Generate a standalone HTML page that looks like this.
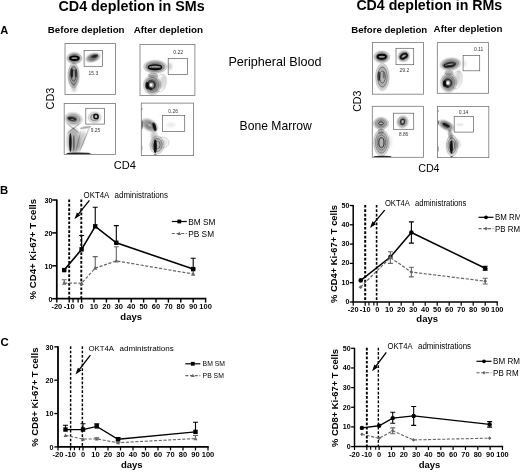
<!DOCTYPE html>
<html lang="en"><head><meta charset="utf-8"><title>CD4 depletion in SMs and RMs</title>
<style>
html,body{margin:0;padding:0;background:#fff;}
body{width:520px;height:472px;overflow:hidden;font-family:"Liberation Sans", Arial, sans-serif;}
svg{display:block;font-family:"Liberation Sans", Arial, sans-serif;}
</style></head>
<body>
<svg width="520" height="472" viewBox="0 0 520 472">
<defs>
<filter id="b0" x="-50%" y="-50%" width="200%" height="200%"><feGaussianBlur stdDeviation="0.35"/></filter>
<filter id="b1" x="-50%" y="-50%" width="200%" height="200%"><feGaussianBlur stdDeviation="0.6"/></filter>
<filter id="b2" x="-50%" y="-50%" width="200%" height="200%"><feGaussianBlur stdDeviation="1.1"/></filter>
<filter id="b3" x="-50%" y="-50%" width="200%" height="200%"><feGaussianBlur stdDeviation="1.8"/></filter>
<filter id="b4" x="-80%" y="-80%" width="260%" height="260%"><feGaussianBlur stdDeviation="2.8"/></filter>
</defs>
<rect width="520" height="472" fill="#fff"/>
<text x="131.6" y="11.4" font-size="14.3" font-weight="bold" text-anchor="middle" fill="#000" >CD4 depletion in SMs</text>
<text x="429.3" y="10.2" font-size="14.2" font-weight="bold" text-anchor="middle" fill="#000" >CD4 depletion in RMs</text>
<text x="0.3" y="34.1" font-size="11.1" font-weight="bold" text-anchor="start" fill="#000" >A</text>
<text x="0" y="193.5" font-size="11.3" font-weight="bold" text-anchor="start" fill="#000" >B</text>
<text x="0.5" y="346" font-size="11.4" font-weight="bold" text-anchor="start" fill="#000" >C</text>
<text x="86.2" y="33.4" font-size="9.72" font-weight="bold" text-anchor="middle" fill="#000" >Before depletion</text>
<text x="168.4" y="33.3" font-size="9.85" font-weight="bold" text-anchor="middle" fill="#000" >After depletion</text>
<text x="389.3" y="32.6" font-size="9.65" font-weight="bold" text-anchor="middle" fill="#000" >Before depletion</text>
<text x="468" y="31.7" font-size="9.75" font-weight="bold" text-anchor="middle" fill="#000" >After depletion</text>
<text x="275" y="66.0" font-size="12.6" font-weight="normal" text-anchor="middle" fill="#000" >Peripheral Blood</text>
<text x="275.7" y="129.6" font-size="12.15" font-weight="normal" text-anchor="middle" fill="#000" >Bone Marrow</text>
<text transform="translate(54.2 98.5) rotate(-90)" font-size="10.9" text-anchor="middle">CD3</text>
<text x="113.8" y="168.9" font-size="11.1" font-weight="normal" text-anchor="start" fill="#000" >CD4</text>
<text transform="translate(360.6 101.2) rotate(-90)" font-size="10.6" text-anchor="middle">CD3</text>
<text x="418.2" y="172" font-size="10.7" font-weight="normal" text-anchor="start" fill="#000" >CD4</text>
<clipPath id="c65_43"><rect x="65" y="43.5" width="50.5" height="51.0"/></clipPath>
<g clip-path="url(#c65_43)">
<g transform="rotate(0 74.4 58.2)">
<ellipse cx="74.4" cy="58.2" rx="6.81" ry="4.97" fill="#000" opacity="0.42" filter="url(#b2)"/>
<ellipse cx="74.4" cy="58.2" rx="7.40" ry="5.40" fill="none" stroke="#000" stroke-width="0.55" opacity="0.30" filter="url(#b0)"/>
<ellipse cx="74.4" cy="58.2" rx="5.34" ry="3.90" fill="none" stroke="#000" stroke-width="0.55" opacity="0.55" filter="url(#b0)"/>
<ellipse cx="74.4" cy="58.2" rx="3.29" ry="2.40" fill="none" stroke="#000" stroke-width="0.55" opacity="0.80" filter="url(#b0)"/>
<ellipse cx="74.4" cy="58.2" rx="4.2" ry="1.8" fill="none" stroke="#000" stroke-width="1.9" opacity="0.95" filter="url(#b1)"/>
</g>
<g transform="rotate(-18 93.0 57.6)">
<ellipse cx="93.0" cy="57.6" rx="6.81" ry="3.50" fill="#000" opacity="0.4" filter="url(#b2)"/>
<ellipse cx="93.0" cy="57.6" rx="7.40" ry="3.80" fill="none" stroke="#000" stroke-width="0.55" opacity="0.30" filter="url(#b0)"/>
<ellipse cx="93.0" cy="57.6" rx="5.34" ry="2.74" fill="none" stroke="#000" stroke-width="0.55" opacity="0.55" filter="url(#b0)"/>
<ellipse cx="93.0" cy="57.6" rx="3.29" ry="1.69" fill="none" stroke="#000" stroke-width="0.55" opacity="0.80" filter="url(#b0)"/>
</g>
<ellipse cx="94.6" cy="56.2" rx="3.4" ry="1.5" transform="rotate(-18 94.6 56.2)" fill="#000" opacity="0.75" filter="url(#b1)"/>
<g transform="rotate(0 73.6 75.6)">
<ellipse cx="73.6" cy="75.6" rx="4.97" ry="11.41" fill="#000" opacity="0.4" filter="url(#b2)"/>
<ellipse cx="73.6" cy="75.6" rx="5.40" ry="12.40" fill="none" stroke="#000" stroke-width="0.55" opacity="0.30" filter="url(#b0)"/>
<ellipse cx="73.6" cy="75.6" rx="3.90" ry="8.96" fill="none" stroke="#000" stroke-width="0.55" opacity="0.55" filter="url(#b0)"/>
<ellipse cx="73.6" cy="75.6" rx="2.40" ry="5.51" fill="none" stroke="#000" stroke-width="0.55" opacity="0.80" filter="url(#b0)"/>
</g>
<ellipse cx="71.8" cy="73" rx="1.4" ry="4.8" transform="rotate(0 71.8 73)" fill="#000" opacity="0.75" filter="url(#b1)"/>
<ellipse cx="75.9" cy="73.2" rx="1.1" ry="4.4" transform="rotate(0 75.9 73.2)" fill="#000" opacity="0.55" filter="url(#b1)"/>
<ellipse cx="74" cy="88" rx="2.4" ry="4" transform="rotate(0 74 88)" fill="#000" opacity="0.2" filter="url(#b2)"/>
</g>
<rect x="65" y="43.5" width="50.5" height="51.0" fill="none" stroke="#777" stroke-width="0.8"/>
<rect x="84.1" y="50.4" width="18.5" height="15.9" fill="none" stroke="#5e5e5e" stroke-width="0.7"/>
<text x="93.4" y="74.9" font-size="5.0" font-weight="normal" text-anchor="middle" fill="#222" opacity="0.9">15.3</text>
<clipPath id="c140_44"><rect x="140" y="44.4" width="54.9" height="51"/></clipPath>
<g clip-path="url(#c140_44)">
<g transform="rotate(0 155.2 66.8)">
<ellipse cx="155.2" cy="66.8" rx="10.67" ry="5.70" fill="#000" opacity="0.38" filter="url(#b2)"/>
<ellipse cx="155.2" cy="66.8" rx="11.60" ry="6.20" fill="none" stroke="#000" stroke-width="0.55" opacity="0.24" filter="url(#b0)"/>
<ellipse cx="155.2" cy="66.8" rx="9.08" ry="4.85" fill="none" stroke="#000" stroke-width="0.55" opacity="0.37" filter="url(#b0)"/>
<ellipse cx="155.2" cy="66.8" rx="6.56" ry="3.50" fill="none" stroke="#000" stroke-width="0.55" opacity="0.51" filter="url(#b0)"/>
<ellipse cx="155.2" cy="66.8" rx="4.03" ry="2.16" fill="none" stroke="#000" stroke-width="0.55" opacity="0.64" filter="url(#b0)"/>
</g>
<ellipse cx="155.0" cy="67.2" rx="6.6" ry="2.2" transform="rotate(0 155.0 67.2)" fill="none" stroke="#000" stroke-width="1.6" opacity="0.9" filter="url(#b1)"/>
<ellipse cx="155.0" cy="68.5" rx="6.0" ry="1.0" transform="rotate(0 155.0 68.5)" fill="#000" opacity="0.6" filter="url(#b1)"/>
<g transform="rotate(0 152.2 85)">
<ellipse cx="152.2" cy="85" rx="7.91" ry="8.83" fill="#000" opacity="0.38" filter="url(#b2)"/>
<ellipse cx="152.2" cy="85" rx="8.60" ry="9.60" fill="none" stroke="#000" stroke-width="0.55" opacity="0.24" filter="url(#b0)"/>
<ellipse cx="152.2" cy="85" rx="6.73" ry="7.51" fill="none" stroke="#000" stroke-width="0.55" opacity="0.37" filter="url(#b0)"/>
<ellipse cx="152.2" cy="85" rx="4.86" ry="5.43" fill="none" stroke="#000" stroke-width="0.55" opacity="0.51" filter="url(#b0)"/>
<ellipse cx="152.2" cy="85" rx="2.99" ry="3.34" fill="none" stroke="#000" stroke-width="0.55" opacity="0.64" filter="url(#b0)"/>
</g>
<ellipse cx="151.2" cy="85" rx="3.7" ry="3.9" transform="rotate(0 151.2 85)" fill="none" stroke="#000" stroke-width="2.1" opacity="0.55" filter="url(#b1)"/>
<ellipse cx="147.2" cy="85.4" rx="1.7" ry="3.4" transform="rotate(0 147.2 85.4)" fill="#000" opacity="0.85" filter="url(#b1)"/>
<ellipse cx="149.5" cy="88.4" rx="2.8" ry="1.3" transform="rotate(20 149.5 88.4)" fill="#000" opacity="0.6" filter="url(#b1)"/>
<ellipse cx="151.0" cy="85" rx="1.4" ry="1.4" transform="rotate(0 151.0 85)" fill="#fff" opacity="0.95" filter="url(#b1)"/>
<ellipse cx="160.5" cy="83" rx="5.5" ry="9" transform="rotate(12 160.5 83)" fill="none" stroke="#000" stroke-width="0.5" opacity="0.35" filter="url(#b0)"/>
<ellipse cx="162.5" cy="82" rx="3" ry="7" transform="rotate(12 162.5 82)" fill="#000" opacity="0.16" filter="url(#b2)"/>
<ellipse cx="153.0" cy="75.3" rx="5" ry="2.5" transform="rotate(0 153.0 75.3)" fill="#000" opacity="0.25" filter="url(#b1)"/>
<ellipse cx="170" cy="66.5" rx="2" ry="3.4" transform="rotate(0 170 66.5)" fill="#000" opacity="0.2" filter="url(#b2)"/>
</g>
<rect x="140" y="44.4" width="54.9" height="51" fill="none" stroke="#777" stroke-width="0.8"/>
<rect x="168.2" y="58.4" width="19.4" height="16" fill="none" stroke="#5e5e5e" stroke-width="0.7"/>
<text x="178.2" y="54.0" font-size="5.2" font-weight="normal" text-anchor="middle" fill="#222" opacity="0.9">0.22</text>
<clipPath id="c64_103"><rect x="64.2" y="103.5" width="51.2" height="50.9"/></clipPath>
<g clip-path="url(#c64_103)">
<g transform="rotate(8 73.4 119.0)">
<ellipse cx="73.4" cy="119.0" rx="8.28" ry="5.70" fill="#000" opacity="0.27" filter="url(#b2)"/>
<ellipse cx="73.4" cy="119.0" rx="9.00" ry="6.20" fill="none" stroke="#000" stroke-width="0.55" opacity="0.22" filter="url(#b0)"/>
<ellipse cx="73.4" cy="119.0" rx="6.50" ry="4.48" fill="none" stroke="#000" stroke-width="0.55" opacity="0.41" filter="url(#b0)"/>
<ellipse cx="73.4" cy="119.0" rx="4.00" ry="2.76" fill="none" stroke="#000" stroke-width="0.55" opacity="0.60" filter="url(#b0)"/>
</g>
<ellipse cx="72.0" cy="118.8" rx="4.6" ry="2.0" transform="rotate(10 72.0 118.8)" fill="#000" opacity="0.82" filter="url(#b1)"/>
<ellipse cx="72.4" cy="119.2" rx="1.8" ry="0.5" transform="rotate(10 72.4 119.2)" fill="#fff" opacity="0.5" filter="url(#b0)"/>
<g transform="rotate(0 94.6 117.4)">
<ellipse cx="94.6" cy="117.4" rx="5.89" ry="4.97" fill="#000" opacity="0.22" filter="url(#b2)"/>
<ellipse cx="94.6" cy="117.4" rx="6.40" ry="5.40" fill="none" stroke="#000" stroke-width="0.55" opacity="0.22" filter="url(#b0)"/>
<ellipse cx="94.6" cy="117.4" rx="3.94" ry="3.32" fill="none" stroke="#000" stroke-width="0.55" opacity="0.60" filter="url(#b0)"/>
</g>
<ellipse cx="96.0" cy="116.6" rx="2.1" ry="2.2" transform="rotate(0 96.0 116.6)" fill="none" stroke="#000" stroke-width="1.6" opacity="0.88" filter="url(#b1)"/>
<ellipse cx="73.5" cy="141" rx="6.5" ry="13" transform="rotate(0 73.5 141)" fill="#000" opacity="0.3" filter="url(#b3)"/>
<ellipse cx="70.4" cy="142.5" rx="1.3" ry="9.5" transform="rotate(0 70.4 142.5)" fill="#000" opacity="0.88" filter="url(#b1)"/>
<ellipse cx="73.8" cy="143" rx="1.0" ry="8" transform="rotate(0 73.8 143)" fill="#000" opacity="0.42" filter="url(#b1)"/>
<ellipse cx="81.0" cy="141" rx="3.0" ry="10.5" transform="rotate(18 81.0 141)" fill="#000" opacity="0.2" filter="url(#b2)"/>
<ellipse cx="84.6" cy="139.5" rx="0.35" ry="13.5" transform="rotate(22 84.6 139.5)" fill="#000" opacity="0.5" filter="url(#b0)"/>
<ellipse cx="78.4" cy="140.5" rx="0.35" ry="11.5" transform="rotate(14 78.4 140.5)" fill="#000" opacity="0.32" filter="url(#b0)"/>
<ellipse cx="73.4" cy="128.4" rx="8.5" ry="0.35" transform="rotate(38 73.4 128.4)" fill="#000" opacity="0.48" filter="url(#b0)"/>
<ellipse cx="73.4" cy="128.4" rx="8.5" ry="0.35" transform="rotate(-38 73.4 128.4)" fill="#000" opacity="0.48" filter="url(#b0)"/>
<ellipse cx="85.5" cy="127.4" rx="5.5" ry="1.0" transform="rotate(-10 85.5 127.4)" fill="#000" opacity="0.38" filter="url(#b1)"/>
<ellipse cx="78.5" cy="153.5" rx="12.5" ry="0.9" transform="rotate(0 78.5 153.5)" fill="#000" opacity="0.85" filter="url(#b1)"/>
</g>
<rect x="64.2" y="103.5" width="51.2" height="50.9" fill="none" stroke="#777" stroke-width="0.8"/>
<rect x="85.8" y="108.3" width="18.7" height="15.8" fill="none" stroke="#5e5e5e" stroke-width="0.7"/>
<text x="95.5" y="131.6" font-size="4.8" font-weight="normal" text-anchor="middle" fill="#222" opacity="0.9">9.25</text>
<clipPath id="c141_103"><rect x="141.3" y="103.1" width="52.3" height="52.5"/></clipPath>
<g clip-path="url(#c141_103)">
<g transform="rotate(30 149.6 125.2)">
<ellipse cx="149.6" cy="125.2" rx="8.28" ry="4.78" fill="#000" opacity="0.3" filter="url(#b2)"/>
<ellipse cx="149.6" cy="125.2" rx="9.00" ry="5.20" fill="none" stroke="#000" stroke-width="0.55" opacity="0.27" filter="url(#b0)"/>
<ellipse cx="149.6" cy="125.2" rx="7.04" ry="4.07" fill="none" stroke="#000" stroke-width="0.55" opacity="0.42" filter="url(#b0)"/>
<ellipse cx="149.6" cy="125.2" rx="5.09" ry="2.94" fill="none" stroke="#000" stroke-width="0.55" opacity="0.57" filter="url(#b0)"/>
<ellipse cx="149.6" cy="125.2" rx="3.13" ry="1.81" fill="none" stroke="#000" stroke-width="0.55" opacity="0.72" filter="url(#b0)"/>
</g>
<ellipse cx="154.4" cy="126.8" rx="1.7" ry="4.4" transform="rotate(-15 154.4 126.8)" fill="#000" opacity="0.88" filter="url(#b1)"/>
<g transform="rotate(0 157.0 145.0)">
<ellipse cx="157.0" cy="145.0" rx="6.44" ry="8.28" fill="#000" opacity="0.26" filter="url(#b2)"/>
<ellipse cx="157.0" cy="145.0" rx="7.00" ry="9.00" fill="none" stroke="#000" stroke-width="0.55" opacity="0.27" filter="url(#b0)"/>
<ellipse cx="157.0" cy="145.0" rx="5.06" ry="6.50" fill="none" stroke="#000" stroke-width="0.55" opacity="0.50" filter="url(#b0)"/>
<ellipse cx="157.0" cy="145.0" rx="3.11" ry="4.00" fill="none" stroke="#000" stroke-width="0.55" opacity="0.72" filter="url(#b0)"/>
</g>
<ellipse cx="155.2" cy="146.4" rx="1.7" ry="6.8" transform="rotate(0 155.2 146.4)" fill="#000" opacity="0.9" filter="url(#b1)"/>
<ellipse cx="162.5" cy="142.5" rx="6.5" ry="5.5" transform="rotate(0 162.5 142.5)" fill="none" stroke="#000" stroke-width="0.5" opacity="0.32" filter="url(#b0)"/>
<ellipse cx="163.5" cy="142.5" rx="4.5" ry="4" transform="rotate(0 163.5 142.5)" fill="#000" opacity="0.1" filter="url(#b2)"/>
<ellipse cx="154.0" cy="135.5" rx="3.2" ry="4.5" transform="rotate(0 154.0 135.5)" fill="#000" opacity="0.2" filter="url(#b2)"/>
<ellipse cx="141.9" cy="124.8" rx="0.7" ry="4.8" transform="rotate(0 141.9 124.8)" fill="#000" opacity="0.8" filter="url(#b0)"/>
<ellipse cx="141.9" cy="109" rx="0.5" ry="1.2" transform="rotate(0 141.9 109)" fill="#000" opacity="0.5" filter="url(#b0)"/>
<ellipse cx="141.9" cy="148" rx="0.5" ry="2.5" transform="rotate(0 141.9 148)" fill="#000" opacity="0.5" filter="url(#b0)"/>
<ellipse cx="171" cy="125" rx="4.5" ry="2.5" transform="rotate(0 171 125)" fill="#000" opacity="0.08" filter="url(#b2)"/>
<ellipse cx="155.2" cy="155" rx="1.6" ry="0.8" transform="rotate(0 155.2 155)" fill="#000" opacity="0.65" filter="url(#b0)"/>
</g>
<rect x="141.3" y="103.1" width="52.3" height="52.5" fill="none" stroke="#777" stroke-width="0.8"/>
<rect x="162.4" y="115.5" width="22.3" height="15.9" fill="none" stroke="#5e5e5e" stroke-width="0.7"/>
<text x="173.2" y="113.0" font-size="5.0" font-weight="normal" text-anchor="middle" fill="#222" opacity="0.9">0.26</text>
<clipPath id="c372_42"><rect x="372.4" y="42.5" width="51.1" height="51.7"/></clipPath>
<g clip-path="url(#c372_42)">
<g transform="rotate(0 381.8 56.8)">
<ellipse cx="381.8" cy="56.8" rx="7.18" ry="5.15" fill="#000" opacity="0.4" filter="url(#b2)"/>
<ellipse cx="381.8" cy="56.8" rx="7.80" ry="5.60" fill="none" stroke="#000" stroke-width="0.55" opacity="0.30" filter="url(#b0)"/>
<ellipse cx="381.8" cy="56.8" rx="5.63" ry="4.04" fill="none" stroke="#000" stroke-width="0.55" opacity="0.55" filter="url(#b0)"/>
<ellipse cx="381.8" cy="56.8" rx="3.47" ry="2.49" fill="none" stroke="#000" stroke-width="0.55" opacity="0.80" filter="url(#b0)"/>
<ellipse cx="381.8" cy="56.8" rx="4.2" ry="2.0" fill="none" stroke="#000" stroke-width="1.9" opacity="0.95" filter="url(#b1)"/>
</g>
<g transform="rotate(-30 403.8 56.2)">
<ellipse cx="403.8" cy="56.2" rx="5.34" ry="4.78" fill="#000" opacity="0.32" filter="url(#b2)"/>
<ellipse cx="403.8" cy="56.2" rx="5.80" ry="5.20" fill="none" stroke="#000" stroke-width="0.55" opacity="0.30" filter="url(#b0)"/>
<ellipse cx="403.8" cy="56.2" rx="4.19" ry="3.76" fill="none" stroke="#000" stroke-width="0.55" opacity="0.55" filter="url(#b0)"/>
<ellipse cx="403.8" cy="56.2" rx="2.58" ry="2.31" fill="none" stroke="#000" stroke-width="0.55" opacity="0.80" filter="url(#b0)"/>
<ellipse cx="403.8" cy="56.2" rx="3.6" ry="2.0" fill="none" stroke="#000" stroke-width="1.7" opacity="0.95" filter="url(#b1)"/>
</g>
<g transform="rotate(0 382.4 77.0)">
<ellipse cx="382.4" cy="77.0" rx="6.07" ry="12.51" fill="#000" opacity="0.3" filter="url(#b2)"/>
<ellipse cx="382.4" cy="77.0" rx="6.60" ry="13.60" fill="none" stroke="#000" stroke-width="0.55" opacity="0.30" filter="url(#b0)"/>
<ellipse cx="382.4" cy="77.0" rx="4.77" ry="9.82" fill="none" stroke="#000" stroke-width="0.55" opacity="0.55" filter="url(#b0)"/>
<ellipse cx="382.4" cy="77.0" rx="2.93" ry="6.04" fill="none" stroke="#000" stroke-width="0.55" opacity="0.80" filter="url(#b0)"/>
</g>
<ellipse cx="379.0" cy="76.2" rx="1.5" ry="4.8" transform="rotate(0 379.0 76.2)" fill="#000" opacity="0.6" filter="url(#b1)"/>
<ellipse cx="383.6" cy="75" rx="1.0" ry="3.5" transform="rotate(0 383.6 75)" fill="#000" opacity="0.35" filter="url(#b1)"/>
</g>
<rect x="372.4" y="42.5" width="51.1" height="51.7" fill="none" stroke="#777" stroke-width="0.8"/>
<rect x="396" y="48.3" width="17.7" height="16.4" fill="none" stroke="#5e5e5e" stroke-width="0.7"/>
<text x="404.4" y="71.8" font-size="5.0" font-weight="normal" text-anchor="middle" fill="#222" opacity="0.9">29.2</text>
<clipPath id="c437_42"><rect x="437.3" y="42.6" width="51.2" height="50.7"/></clipPath>
<g clip-path="url(#c437_42)">
<g transform="rotate(-8 450.4 64.2)">
<ellipse cx="450.4" cy="64.2" rx="9.57" ry="5.52" fill="#000" opacity="0.36" filter="url(#b2)"/>
<ellipse cx="450.4" cy="64.2" rx="10.40" ry="6.00" fill="none" stroke="#000" stroke-width="0.55" opacity="0.24" filter="url(#b0)"/>
<ellipse cx="450.4" cy="64.2" rx="8.14" ry="4.70" fill="none" stroke="#000" stroke-width="0.55" opacity="0.37" filter="url(#b0)"/>
<ellipse cx="450.4" cy="64.2" rx="5.88" ry="3.39" fill="none" stroke="#000" stroke-width="0.55" opacity="0.51" filter="url(#b0)"/>
<ellipse cx="450.4" cy="64.2" rx="3.62" ry="2.09" fill="none" stroke="#000" stroke-width="0.55" opacity="0.64" filter="url(#b0)"/>
</g>
<ellipse cx="449.6" cy="64.8" rx="5.6" ry="1.8" transform="rotate(-10 449.6 64.8)" fill="none" stroke="#000" stroke-width="1.5" opacity="0.85" filter="url(#b1)"/>
<ellipse cx="449.2" cy="65.9" rx="5.0" ry="0.9" transform="rotate(-8 449.2 65.9)" fill="#000" opacity="0.6" filter="url(#b1)"/>
<g transform="rotate(0 448.6 82.6)">
<ellipse cx="448.6" cy="82.6" rx="7.36" ry="8.83" fill="#000" opacity="0.36" filter="url(#b2)"/>
<ellipse cx="448.6" cy="82.6" rx="8.00" ry="9.60" fill="none" stroke="#000" stroke-width="0.55" opacity="0.24" filter="url(#b0)"/>
<ellipse cx="448.6" cy="82.6" rx="6.26" ry="7.51" fill="none" stroke="#000" stroke-width="0.55" opacity="0.37" filter="url(#b0)"/>
<ellipse cx="448.6" cy="82.6" rx="4.52" ry="5.43" fill="none" stroke="#000" stroke-width="0.55" opacity="0.51" filter="url(#b0)"/>
<ellipse cx="448.6" cy="82.6" rx="2.78" ry="3.34" fill="none" stroke="#000" stroke-width="0.55" opacity="0.64" filter="url(#b0)"/>
</g>
<ellipse cx="447.8" cy="83.0" rx="3.6" ry="3.8" transform="rotate(0 447.8 83.0)" fill="none" stroke="#000" stroke-width="2.0" opacity="0.55" filter="url(#b1)"/>
<ellipse cx="444.6" cy="83.4" rx="1.6" ry="3.2" transform="rotate(0 444.6 83.4)" fill="#000" opacity="0.85" filter="url(#b1)"/>
<ellipse cx="446.5" cy="86.2" rx="2.6" ry="1.3" transform="rotate(20 446.5 86.2)" fill="#000" opacity="0.6" filter="url(#b1)"/>
<ellipse cx="447.8" cy="83.0" rx="1.4" ry="1.4" transform="rotate(0 447.8 83.0)" fill="#fff" opacity="0.95" filter="url(#b1)"/>
<ellipse cx="458.0" cy="78" rx="3" ry="8" transform="rotate(10 458.0 78)" fill="#000" opacity="0.16" filter="url(#b2)"/>
<ellipse cx="457" cy="80" rx="5" ry="9" transform="rotate(12 457 80)" fill="none" stroke="#000" stroke-width="0.5" opacity="0.3" filter="url(#b0)"/>
<ellipse cx="449.0" cy="72.8" rx="4.5" ry="2.5" transform="rotate(0 449.0 72.8)" fill="#000" opacity="0.25" filter="url(#b1)"/>
<ellipse cx="464.5" cy="63.5" rx="1.5" ry="3" transform="rotate(0 464.5 63.5)" fill="#000" opacity="0.12" filter="url(#b2)"/>
</g>
<rect x="437.3" y="42.6" width="51.2" height="50.7" fill="none" stroke="#777" stroke-width="0.8"/>
<rect x="463.1" y="55.4" width="16.6" height="15.4" fill="none" stroke="#5e5e5e" stroke-width="0.7"/>
<text x="478.6" y="50.7" font-size="5.0" font-weight="normal" text-anchor="middle" fill="#222" opacity="0.9">0.11</text>
<clipPath id="c372_106"><rect x="372.3" y="106.3" width="51.1" height="51"/></clipPath>
<g clip-path="url(#c372_106)">
<g transform="rotate(0 381.0 123.4)">
<ellipse cx="381.0" cy="123.4" rx="6.81" ry="5.34" fill="#000" opacity="0.27" filter="url(#b2)"/>
<ellipse cx="381.0" cy="123.4" rx="7.40" ry="5.80" fill="none" stroke="#000" stroke-width="0.55" opacity="0.30" filter="url(#b0)"/>
<ellipse cx="381.0" cy="123.4" rx="5.79" ry="4.54" fill="none" stroke="#000" stroke-width="0.55" opacity="0.47" filter="url(#b0)"/>
<ellipse cx="381.0" cy="123.4" rx="4.18" ry="3.28" fill="none" stroke="#000" stroke-width="0.55" opacity="0.63" filter="url(#b0)"/>
<ellipse cx="381.0" cy="123.4" rx="2.57" ry="2.02" fill="none" stroke="#000" stroke-width="0.55" opacity="0.80" filter="url(#b0)"/>
<ellipse cx="381.0" cy="123.4" rx="2.3" ry="1.3" fill="none" stroke="#000" stroke-width="0.9" opacity="0.6" filter="url(#b1)"/>
</g>
<g transform="rotate(15 402.6 121.8)">
<ellipse cx="402.6" cy="121.8" rx="4.97" ry="5.52" fill="#000" opacity="0.27" filter="url(#b2)"/>
<ellipse cx="402.6" cy="121.8" rx="5.40" ry="6.00" fill="none" stroke="#000" stroke-width="0.55" opacity="0.30" filter="url(#b0)"/>
<ellipse cx="402.6" cy="121.8" rx="3.90" ry="4.33" fill="none" stroke="#000" stroke-width="0.55" opacity="0.55" filter="url(#b0)"/>
<ellipse cx="402.6" cy="121.8" rx="2.40" ry="2.67" fill="none" stroke="#000" stroke-width="0.55" opacity="0.80" filter="url(#b0)"/>
<ellipse cx="402.6" cy="121.8" rx="1.8" ry="2.6" fill="none" stroke="#000" stroke-width="1.2" opacity="0.8" filter="url(#b1)"/>
</g>
<g transform="rotate(0 381.4 142.6)">
<ellipse cx="381.4" cy="142.6" rx="6.99" ry="12.33" fill="#000" opacity="0.3" filter="url(#b2)"/>
<ellipse cx="381.4" cy="142.6" rx="7.60" ry="13.40" fill="none" stroke="#000" stroke-width="0.55" opacity="0.30" filter="url(#b0)"/>
<ellipse cx="381.4" cy="142.6" rx="5.95" ry="10.49" fill="none" stroke="#000" stroke-width="0.55" opacity="0.47" filter="url(#b0)"/>
<ellipse cx="381.4" cy="142.6" rx="4.30" ry="7.57" fill="none" stroke="#000" stroke-width="0.55" opacity="0.63" filter="url(#b0)"/>
<ellipse cx="381.4" cy="142.6" rx="2.64" ry="4.66" fill="none" stroke="#000" stroke-width="0.55" opacity="0.80" filter="url(#b0)"/>
<ellipse cx="381.4" cy="142.6" rx="2.6" ry="5.2" fill="none" stroke="#000" stroke-width="0.9" opacity="0.55" filter="url(#b1)"/>
</g>
<ellipse cx="380.8" cy="131.5" rx="3" ry="3" transform="rotate(0 380.8 131.5)" fill="#000" opacity="0.18" filter="url(#b1)"/>
<ellipse cx="389.5" cy="142" rx="2.5" ry="7" transform="rotate(0 389.5 142)" fill="#000" opacity="0.08" filter="url(#b2)"/>
<ellipse cx="382.6" cy="156.7" rx="9.0" ry="0.9" transform="rotate(0 382.6 156.7)" fill="#000" opacity="0.88" filter="url(#b1)"/>
</g>
<rect x="372.3" y="106.3" width="51.1" height="51" fill="none" stroke="#777" stroke-width="0.8"/>
<rect x="393.4" y="113.2" width="20.3" height="16.1" fill="none" stroke="#5e5e5e" stroke-width="0.7"/>
<text x="403.6" y="135.7" font-size="4.8" font-weight="normal" text-anchor="middle" fill="#222" opacity="0.9">8.86</text>
<clipPath id="c437_106"><rect x="437.5" y="106.5" width="51.3" height="51.1"/></clipPath>
<g clip-path="url(#c437_106)">
<g transform="rotate(27 446.2 125.4)">
<ellipse cx="446.2" cy="125.4" rx="7.54" ry="3.68" fill="#000" opacity="0.38" filter="url(#b2)"/>
<ellipse cx="446.2" cy="125.4" rx="8.20" ry="4.00" fill="none" stroke="#000" stroke-width="0.55" opacity="0.30" filter="url(#b0)"/>
<ellipse cx="446.2" cy="125.4" rx="5.92" ry="2.89" fill="none" stroke="#000" stroke-width="0.55" opacity="0.55" filter="url(#b0)"/>
<ellipse cx="446.2" cy="125.4" rx="3.64" ry="1.78" fill="none" stroke="#000" stroke-width="0.55" opacity="0.80" filter="url(#b0)"/>
</g>
<ellipse cx="446.0" cy="125.2" rx="3.9" ry="1.4" transform="rotate(27 446.0 125.2)" fill="#000" opacity="0.9" filter="url(#b1)"/>
<g transform="rotate(0 452.0 145.6)">
<ellipse cx="452.0" cy="145.6" rx="5.15" ry="9.75" fill="#000" opacity="0.28" filter="url(#b2)"/>
<ellipse cx="452.0" cy="145.6" rx="5.60" ry="10.60" fill="none" stroke="#000" stroke-width="0.55" opacity="0.30" filter="url(#b0)"/>
<ellipse cx="452.0" cy="145.6" rx="4.04" ry="7.66" fill="none" stroke="#000" stroke-width="0.55" opacity="0.55" filter="url(#b0)"/>
<ellipse cx="452.0" cy="145.6" rx="2.49" ry="4.71" fill="none" stroke="#000" stroke-width="0.55" opacity="0.80" filter="url(#b0)"/>
</g>
<ellipse cx="451.4" cy="147.0" rx="1.5" ry="6.8" transform="rotate(0 451.4 147.0)" fill="#000" opacity="0.9" filter="url(#b1)"/>
<ellipse cx="450.4" cy="134.5" rx="2.2" ry="5" transform="rotate(-12 450.4 134.5)" fill="#000" opacity="0.32" filter="url(#b1)"/>
<ellipse cx="457.5" cy="144" rx="2.8" ry="4.5" transform="rotate(0 457.5 144)" fill="#000" opacity="0.16" filter="url(#b2)"/>
<ellipse cx="438.1" cy="122.5" rx="0.6" ry="2.2" transform="rotate(0 438.1 122.5)" fill="#000" opacity="0.7" filter="url(#b0)"/>
<ellipse cx="438.1" cy="111" rx="0.5" ry="1.0" transform="rotate(0 438.1 111)" fill="#000" opacity="0.5" filter="url(#b0)"/>
<ellipse cx="438.1" cy="149" rx="0.5" ry="3.0" transform="rotate(0 438.1 149)" fill="#000" opacity="0.5" filter="url(#b0)"/>
<ellipse cx="451.6" cy="156.8" rx="1.2" ry="0.8" transform="rotate(0 451.6 156.8)" fill="#000" opacity="0.7" filter="url(#b0)"/>
<ellipse cx="460" cy="124.5" rx="3.5" ry="1.5" transform="rotate(0 460 124.5)" fill="#000" opacity="0.08" filter="url(#b1)"/>
</g>
<rect x="437.5" y="106.5" width="51.3" height="51.1" fill="none" stroke="#777" stroke-width="0.8"/>
<rect x="454.2" y="116.4" width="19.4" height="15.7" fill="none" stroke="#5e5e5e" stroke-width="0.7"/>
<text x="463.5" y="114.1" font-size="5.0" font-weight="normal" text-anchor="middle" fill="#222" opacity="0.9">0.14</text>
<path d="M56.8 199.40 V298.7 H206.30" fill="none" stroke="#000" stroke-width="1.75"/>
<path d="M52.20 298.70 H56.8" stroke="#000" stroke-width="1.5"/>
<text transform="translate(52.50 301.54) scale(0.9 1)" font-size="8.0" font-weight="bold" text-anchor="end">0</text>
<path d="M52.20 265.80 H56.8" stroke="#000" stroke-width="1.5"/>
<text transform="translate(52.50 268.64) scale(0.9 1)" font-size="8.0" font-weight="bold" text-anchor="end">10</text>
<path d="M52.20 232.90 H56.8" stroke="#000" stroke-width="1.5"/>
<text transform="translate(52.50 235.74) scale(0.9 1)" font-size="8.0" font-weight="bold" text-anchor="end">20</text>
<path d="M52.20 200.00 H56.8" stroke="#000" stroke-width="1.5"/>
<text transform="translate(52.50 202.84) scale(0.9 1)" font-size="8.0" font-weight="bold" text-anchor="end">30</text>
<path d="M56.80 298.7 V302.60" stroke="#000" stroke-width="1.40"/>
<text transform="translate(56.80 309.33) scale(0.94 1)" font-size="8.0" font-weight="bold" text-anchor="middle">-20</text>
<path d="M69.20 298.7 V302.60" stroke="#000" stroke-width="1.40"/>
<text transform="translate(69.20 309.33) scale(0.94 1)" font-size="8.0" font-weight="bold" text-anchor="middle">-10</text>
<path d="M81.60 298.7 V302.60" stroke="#000" stroke-width="1.40"/>
<text transform="translate(81.60 309.33) scale(0.94 1)" font-size="8.0" font-weight="bold" text-anchor="middle">0</text>
<path d="M94.00 298.7 V302.60" stroke="#000" stroke-width="1.40"/>
<text transform="translate(94.00 309.33) scale(0.94 1)" font-size="8.0" font-weight="bold" text-anchor="middle">10</text>
<path d="M106.40 298.7 V302.60" stroke="#000" stroke-width="1.40"/>
<text transform="translate(106.40 309.33) scale(0.94 1)" font-size="8.0" font-weight="bold" text-anchor="middle">20</text>
<path d="M118.80 298.7 V302.60" stroke="#000" stroke-width="1.40"/>
<text transform="translate(118.80 309.33) scale(0.94 1)" font-size="8.0" font-weight="bold" text-anchor="middle">30</text>
<path d="M131.20 298.7 V302.60" stroke="#000" stroke-width="1.40"/>
<text transform="translate(131.20 309.33) scale(0.94 1)" font-size="8.0" font-weight="bold" text-anchor="middle">40</text>
<path d="M143.60 298.7 V302.60" stroke="#000" stroke-width="1.40"/>
<text transform="translate(143.60 309.33) scale(0.94 1)" font-size="8.0" font-weight="bold" text-anchor="middle">50</text>
<path d="M156.00 298.7 V302.60" stroke="#000" stroke-width="1.40"/>
<text transform="translate(156.00 309.33) scale(0.94 1)" font-size="8.0" font-weight="bold" text-anchor="middle">60</text>
<path d="M168.40 298.7 V302.60" stroke="#000" stroke-width="1.40"/>
<text transform="translate(168.40 309.33) scale(0.94 1)" font-size="8.0" font-weight="bold" text-anchor="middle">70</text>
<path d="M180.80 298.7 V302.60" stroke="#000" stroke-width="1.40"/>
<text transform="translate(180.80 309.33) scale(0.94 1)" font-size="8.0" font-weight="bold" text-anchor="middle">80</text>
<path d="M193.20 298.7 V302.60" stroke="#000" stroke-width="1.40"/>
<text transform="translate(193.20 309.33) scale(0.94 1)" font-size="8.0" font-weight="bold" text-anchor="middle">90</text>
<path d="M205.60 298.7 V302.60" stroke="#000" stroke-width="1.40"/>
<text transform="translate(205.60 309.33) scale(0.94 1)" font-size="8.0" font-weight="bold" text-anchor="middle">100</text>
<path d="M73.04 298.7 V302.40" stroke="#000" stroke-width="1.30"/>
<path d="M78.13 298.7 V302.40" stroke="#000" stroke-width="1.30"/>
<path d="M69.20 199.40 V298.7" stroke="#000" stroke-width="1.9" stroke-dasharray="2.7 1.7"/>
<path d="M81.29 199.40 V298.7" stroke="#000" stroke-width="1.9" stroke-dasharray="2.7 1.7"/>
<path d="M64.24 283.07 V279.78 M61.74 279.78 H66.74" stroke="#666" stroke-width="1.1" fill="none"/>
<path d="M95.24 268.1 V256.59 M92.74 256.59 H97.74" stroke="#666" stroke-width="1.1" fill="none"/>
<path d="M116.32 260.87 V246.72 M113.82 246.72 H118.82" stroke="#666" stroke-width="1.1" fill="none"/>
<path d="M193.2 274.02 V269.09 M190.7 269.09 H195.7" stroke="#666" stroke-width="1.1" fill="none"/>
<path d="M64.24 283.07 L81.60 283.24 L95.24 268.10 L116.32 260.87 L193.20 274.02" fill="none" stroke="#666" stroke-width="1.2" stroke-dasharray="3.1 1.6"/>
<path d="M64.24 280.87 L66.44 284.83 L62.04 284.83 Z" fill="#666"/>
<path d="M81.60 281.04 L83.80 285.00 L79.40 285.00 Z" fill="#666"/>
<path d="M95.24 265.90 L97.44 269.86 L93.04 269.86 Z" fill="#666"/>
<path d="M116.32 258.67 L118.52 262.62 L114.12 262.62 Z" fill="#666"/>
<path d="M193.20 271.82 L195.40 275.78 L191.00 275.78 Z" fill="#666"/>
<path d="M81.6 249.35 V235.53 M79.1 235.53 H84.1" stroke="#000" stroke-width="1.1" fill="none"/>
<path d="M95.24 226.32 V207.24 M92.74 207.24 H97.74" stroke="#000" stroke-width="1.1" fill="none"/>
<path d="M116.32 242.77 V225.66 M113.82 225.66 H118.82" stroke="#000" stroke-width="1.1" fill="none"/>
<path d="M193.2 269.09 V258.23 M190.7 258.23 H195.7" stroke="#000" stroke-width="1.1" fill="none"/>
<path d="M64.24 270.08 L81.60 249.35 L95.24 226.32 L116.32 242.77 L193.20 269.09" fill="none" stroke="#000" stroke-width="1.6"/>
<rect x="62.04" y="267.88" width="4.4" height="4.4" fill="#000"/>
<rect x="79.40" y="247.15" width="4.4" height="4.4" fill="#000"/>
<rect x="93.04" y="224.12" width="4.4" height="4.4" fill="#000"/>
<rect x="114.12" y="240.57" width="4.4" height="4.4" fill="#000"/>
<rect x="191.00" y="266.89" width="4.4" height="4.4" fill="#000"/>
<text transform="translate(35.8 249.2) rotate(-90) scale(1.0 1)" font-size="9.65" font-weight="bold" text-anchor="middle">% CD4+ Ki-67+ T cells</text>
<text x="131.2" y="320.4" font-size="9.5" font-weight="bold" text-anchor="middle" fill="#000" >days</text>
<path d="M171.8 221.5 H186.8" stroke="#000" stroke-width="1.2"/>
<rect x="177.40" y="219.60" width="3.8" height="3.8" fill="#000"/>
<text transform="translate(188.30 224.54) scale(0.96 1)" font-size="8.63">BM SM</text>
<path d="M171.8 233.5 H186.8" stroke="#666" stroke-width="1.2" stroke-dasharray="3.1 1.6"/>
<path d="M179.30 231.60 L181.20 235.02 L177.40 235.02 Z" fill="#666"/>
<text transform="translate(188.30 236.54) scale(0.96 1)" font-size="8.63">PB SM</text>
<text transform="translate(83.5 198.0) scale(0.96 1)" font-size="8.22">OKT4A</text>
<text transform="translate(114.6 198.0) scale(0.96 1)" font-size="8.29">administrations</text>
<path d="M89.4 200.3 L76.26 216.85" stroke="#000" stroke-width="1.3"/>
<path d="M74.4 219.2 L76.90 212.51 L80.35 215.24 Z" fill="#000"/>
<path d="M353.2 204.90 V302 H497.90" fill="none" stroke="#000" stroke-width="1.5"/>
<path d="M349.80 302.00 H353.2" stroke="#000" stroke-width="1.3"/>
<text transform="translate(349.50 304.07) scale(0.91 1)" font-size="7.8" font-weight="bold" text-anchor="end">0</text>
<path d="M349.80 282.70 H353.2" stroke="#000" stroke-width="1.3"/>
<text transform="translate(349.50 284.77) scale(0.91 1)" font-size="7.8" font-weight="bold" text-anchor="end">10</text>
<path d="M349.80 263.40 H353.2" stroke="#000" stroke-width="1.3"/>
<text transform="translate(349.50 265.47) scale(0.91 1)" font-size="7.8" font-weight="bold" text-anchor="end">20</text>
<path d="M349.80 244.10 H353.2" stroke="#000" stroke-width="1.3"/>
<text transform="translate(349.50 246.17) scale(0.91 1)" font-size="7.8" font-weight="bold" text-anchor="end">30</text>
<path d="M349.80 224.80 H353.2" stroke="#000" stroke-width="1.3"/>
<text transform="translate(349.50 226.87) scale(0.91 1)" font-size="7.8" font-weight="bold" text-anchor="end">40</text>
<path d="M349.80 205.50 H353.2" stroke="#000" stroke-width="1.3"/>
<text transform="translate(349.50 207.57) scale(0.91 1)" font-size="7.8" font-weight="bold" text-anchor="end">50</text>
<path d="M353.20 302 V305.80" stroke="#000" stroke-width="1.20"/>
<text transform="translate(353.20 312.19) scale(0.95 1)" font-size="7.8" font-weight="bold" text-anchor="middle">-20</text>
<path d="M365.20 302 V305.80" stroke="#000" stroke-width="1.20"/>
<text transform="translate(365.20 312.19) scale(0.95 1)" font-size="7.8" font-weight="bold" text-anchor="middle">-10</text>
<path d="M377.20 302 V305.80" stroke="#000" stroke-width="1.20"/>
<text transform="translate(377.20 312.19) scale(0.95 1)" font-size="7.8" font-weight="bold" text-anchor="middle">0</text>
<path d="M389.20 302 V305.80" stroke="#000" stroke-width="1.20"/>
<text transform="translate(389.20 312.19) scale(0.95 1)" font-size="7.8" font-weight="bold" text-anchor="middle">10</text>
<path d="M401.20 302 V305.80" stroke="#000" stroke-width="1.20"/>
<text transform="translate(401.20 312.19) scale(0.95 1)" font-size="7.8" font-weight="bold" text-anchor="middle">20</text>
<path d="M413.20 302 V305.80" stroke="#000" stroke-width="1.20"/>
<text transform="translate(413.20 312.19) scale(0.95 1)" font-size="7.8" font-weight="bold" text-anchor="middle">30</text>
<path d="M425.20 302 V305.80" stroke="#000" stroke-width="1.20"/>
<text transform="translate(425.20 312.19) scale(0.95 1)" font-size="7.8" font-weight="bold" text-anchor="middle">40</text>
<path d="M437.20 302 V305.80" stroke="#000" stroke-width="1.20"/>
<text transform="translate(437.20 312.19) scale(0.95 1)" font-size="7.8" font-weight="bold" text-anchor="middle">50</text>
<path d="M449.20 302 V305.80" stroke="#000" stroke-width="1.20"/>
<text transform="translate(449.20 312.19) scale(0.95 1)" font-size="7.8" font-weight="bold" text-anchor="middle">60</text>
<path d="M461.20 302 V305.80" stroke="#000" stroke-width="1.20"/>
<text transform="translate(461.20 312.19) scale(0.95 1)" font-size="7.8" font-weight="bold" text-anchor="middle">70</text>
<path d="M473.20 302 V305.80" stroke="#000" stroke-width="1.20"/>
<text transform="translate(473.20 312.19) scale(0.95 1)" font-size="7.8" font-weight="bold" text-anchor="middle">80</text>
<path d="M485.20 302 V305.80" stroke="#000" stroke-width="1.20"/>
<text transform="translate(485.20 312.19) scale(0.95 1)" font-size="7.8" font-weight="bold" text-anchor="middle">90</text>
<path d="M497.20 302 V305.80" stroke="#000" stroke-width="1.20"/>
<text transform="translate(497.20 312.19) scale(0.95 1)" font-size="7.8" font-weight="bold" text-anchor="middle">100</text>
<path d="M368.92 302 V305.60" stroke="#000" stroke-width="1.10"/>
<path d="M373.84 302 V305.60" stroke="#000" stroke-width="1.10"/>
<path d="M365.20 204.90 V302" stroke="#000" stroke-width="2.0" stroke-dasharray="2.7 1.7"/>
<path d="M376.60 204.90 V302" stroke="#000" stroke-width="1.6" stroke-dasharray="2.7 1.7"/>
<path d="M411.4 232.52 V221.91 M408.9 221.91 H413.9" stroke="#000" stroke-width="1.1" fill="none"/>
<path d="M411.4 232.52 V243.13 M408.9 243.13 H413.9" stroke="#000" stroke-width="1.1" fill="none"/>
<path d="M485.2 268.23 V266.3 M482.7 266.3 H487.7" stroke="#000" stroke-width="1.1" fill="none"/>
<path d="M485.2 268.23 V270.15 M482.7 270.15 H487.7" stroke="#000" stroke-width="1.1" fill="none"/>
<path d="M360.76 280.38 L390.40 257.03 L411.40 232.52 L485.20 268.23" fill="none" stroke="#000" stroke-width="1.5"/>
<circle cx="360.76" cy="280.38" r="2.3" fill="#000"/>
<circle cx="390.40" cy="257.03" r="2.3" fill="#000"/>
<circle cx="411.40" cy="232.52" r="2.3" fill="#000"/>
<circle cx="485.20" cy="268.23" r="2.3" fill="#000"/>
<path d="M390.4 257.61 V251.82 M387.9 251.82 H392.9" stroke="#666" stroke-width="1.1" fill="none"/>
<path d="M390.4 257.61 V263.4 M387.9 263.4 H392.9" stroke="#666" stroke-width="1.1" fill="none"/>
<path d="M411.4 272.08 V267.26 M408.9 267.26 H413.9" stroke="#666" stroke-width="1.1" fill="none"/>
<path d="M411.4 272.08 V276.91 M408.9 276.91 H413.9" stroke="#666" stroke-width="1.1" fill="none"/>
<path d="M485.2 281.16 V278.26 M482.7 278.26 H487.7" stroke="#666" stroke-width="1.1" fill="none"/>
<path d="M485.2 281.16 V284.05 M482.7 284.05 H487.7" stroke="#666" stroke-width="1.1" fill="none"/>
<path d="M360.52 287.14 L390.40 257.61 L411.40 272.08 L485.20 281.16" fill="none" stroke="#666" stroke-width="1.2" stroke-dasharray="3.1 1.6"/>
<path d="M360.52 285.24 L362.42 287.14 L360.52 289.04 L358.62 287.14 Z" fill="#666"/>
<path d="M390.40 255.71 L392.30 257.61 L390.40 259.51 L388.50 257.61 Z" fill="#666"/>
<path d="M411.40 270.19 L413.30 272.08 L411.40 273.98 L409.50 272.08 Z" fill="#666"/>
<path d="M485.20 279.26 L487.10 281.16 L485.20 283.06 L483.30 281.16 Z" fill="#666"/>
<text transform="translate(336.6 254.0) rotate(-90) scale(1.0 1)" font-size="9.40" font-weight="bold" text-anchor="middle">% CD4+ Ki-67+ T cells</text>
<text x="427.2" y="321.8" font-size="9.5" font-weight="bold" text-anchor="middle" fill="#000" >days</text>
<path d="M478.5 217.3 H493.5" stroke="#000" stroke-width="1.2"/>
<circle cx="486.00" cy="217.30" r="1.9" fill="#000"/>
<text transform="translate(495.00 220.26) scale(0.91 1)" font-size="8.69">BM RM</text>
<path d="M478.5 228.6 H493.5" stroke="#666" stroke-width="1.2" stroke-dasharray="3.1 1.6"/>
<path d="M486.00 226.70 L487.90 228.60 L486.00 230.50 L484.10 228.60 Z" fill="#666"/>
<text transform="translate(495.00 231.56) scale(0.91 1)" font-size="8.69">PB RM</text>
<text transform="translate(384.9 206) scale(0.87 1)" font-size="8.74">OKT4A</text>
<text transform="translate(415 206) scale(0.87 1)" font-size="8.80">administrations</text>
<path d="M384.7 210.2 L371.82 225.69" stroke="#000" stroke-width="1.3"/>
<path d="M369.9 228 L372.56 221.36 L375.94 224.18 Z" fill="#000"/>
<path d="M58.0 346.25 V446.9 H208.70" fill="none" stroke="#000" stroke-width="1.8"/>
<path d="M54.30 446.90 H58.0" stroke="#000" stroke-width="1.35"/>
<text transform="translate(53.40 449.74) scale(0.9 1)" font-size="8.0" font-weight="bold" text-anchor="end">0</text>
<path d="M54.30 413.55 H58.0" stroke="#000" stroke-width="1.35"/>
<text transform="translate(53.40 416.39) scale(0.9 1)" font-size="8.0" font-weight="bold" text-anchor="end">10</text>
<path d="M54.30 380.20 H58.0" stroke="#000" stroke-width="1.35"/>
<text transform="translate(53.40 383.04) scale(0.9 1)" font-size="8.0" font-weight="bold" text-anchor="end">20</text>
<path d="M54.30 346.85 H58.0" stroke="#000" stroke-width="1.35"/>
<text transform="translate(53.40 349.69) scale(0.9 1)" font-size="8.0" font-weight="bold" text-anchor="end">30</text>
<path d="M58.00 446.9 V450.40" stroke="#000" stroke-width="1.25"/>
<text transform="translate(58.00 457.23) scale(0.94 1)" font-size="8.0" font-weight="bold" text-anchor="middle">-20</text>
<path d="M70.50 446.9 V450.40" stroke="#000" stroke-width="1.25"/>
<text transform="translate(70.50 457.23) scale(0.94 1)" font-size="8.0" font-weight="bold" text-anchor="middle">-10</text>
<path d="M83.00 446.9 V450.40" stroke="#000" stroke-width="1.25"/>
<text transform="translate(83.00 457.23) scale(0.94 1)" font-size="8.0" font-weight="bold" text-anchor="middle">0</text>
<path d="M95.50 446.9 V450.40" stroke="#000" stroke-width="1.25"/>
<text transform="translate(95.50 457.23) scale(0.94 1)" font-size="8.0" font-weight="bold" text-anchor="middle">10</text>
<path d="M108.00 446.9 V450.40" stroke="#000" stroke-width="1.25"/>
<text transform="translate(108.00 457.23) scale(0.94 1)" font-size="8.0" font-weight="bold" text-anchor="middle">20</text>
<path d="M120.50 446.9 V450.40" stroke="#000" stroke-width="1.25"/>
<text transform="translate(120.50 457.23) scale(0.94 1)" font-size="8.0" font-weight="bold" text-anchor="middle">30</text>
<path d="M133.00 446.9 V450.40" stroke="#000" stroke-width="1.25"/>
<text transform="translate(133.00 457.23) scale(0.94 1)" font-size="8.0" font-weight="bold" text-anchor="middle">40</text>
<path d="M145.50 446.9 V450.40" stroke="#000" stroke-width="1.25"/>
<text transform="translate(145.50 457.23) scale(0.94 1)" font-size="8.0" font-weight="bold" text-anchor="middle">50</text>
<path d="M158.00 446.9 V450.40" stroke="#000" stroke-width="1.25"/>
<text transform="translate(158.00 457.23) scale(0.94 1)" font-size="8.0" font-weight="bold" text-anchor="middle">60</text>
<path d="M170.50 446.9 V450.40" stroke="#000" stroke-width="1.25"/>
<text transform="translate(170.50 457.23) scale(0.94 1)" font-size="8.0" font-weight="bold" text-anchor="middle">70</text>
<path d="M183.00 446.9 V450.40" stroke="#000" stroke-width="1.25"/>
<text transform="translate(183.00 457.23) scale(0.94 1)" font-size="8.0" font-weight="bold" text-anchor="middle">80</text>
<path d="M195.50 446.9 V450.40" stroke="#000" stroke-width="1.25"/>
<text transform="translate(195.50 457.23) scale(0.94 1)" font-size="8.0" font-weight="bold" text-anchor="middle">90</text>
<path d="M208.00 446.9 V450.40" stroke="#000" stroke-width="1.25"/>
<text transform="translate(208.00 457.23) scale(0.94 1)" font-size="8.0" font-weight="bold" text-anchor="middle">100</text>
<path d="M74.38 446.9 V450.20" stroke="#000" stroke-width="1.15"/>
<path d="M79.50 446.9 V450.20" stroke="#000" stroke-width="1.15"/>
<path d="M70.62 346.25 V446.9" stroke="#000" stroke-width="1.45" stroke-dasharray="2.7 1.7"/>
<path d="M82.38 346.25 V446.9" stroke="#000" stroke-width="1.45" stroke-dasharray="2.7 1.7"/>
<path d="M96.75 438.9 V437.9 M94.25 437.9 H99.25" stroke="#666" stroke-width="1.1" fill="none"/>
<path d="M118.0 442.73 V442.06 M115.5 442.06 H120.5" stroke="#666" stroke-width="1.1" fill="none"/>
<path d="M195.5 438.56 V435.56 M193.0 435.56 H198.0" stroke="#666" stroke-width="1.1" fill="none"/>
<path d="M65.50 435.39 L83.00 439.06 L96.75 438.90 L118.00 442.73 L195.50 438.56" fill="none" stroke="#666" stroke-width="1.1" stroke-dasharray="3.1 1.6"/>
<path d="M65.50 433.39 L67.50 436.99 L63.50 436.99 Z" fill="#666"/>
<path d="M83.00 437.06 L85.00 440.66 L81.00 440.66 Z" fill="#666"/>
<path d="M96.75 436.90 L98.75 440.50 L94.75 440.50 Z" fill="#666"/>
<path d="M118.00 440.73 L120.00 444.33 L116.00 444.33 Z" fill="#666"/>
<path d="M195.50 436.56 L197.50 440.16 L193.50 440.16 Z" fill="#666"/>
<path d="M65.5 429.56 V425.22 M63.0 425.22 H68.0" stroke="#000" stroke-width="1.1" fill="none"/>
<path d="M83.0 429.56 V423.72 M80.5 423.72 H85.5" stroke="#000" stroke-width="1.1" fill="none"/>
<path d="M96.75 426.39 V423.89 M94.25 423.89 H99.25" stroke="#000" stroke-width="1.1" fill="none"/>
<path d="M118.0 439.23 V437.56 M115.5 437.56 H120.5" stroke="#000" stroke-width="1.1" fill="none"/>
<path d="M195.5 431.89 V422.22 M193.0 422.22 H198.0" stroke="#000" stroke-width="1.1" fill="none"/>
<path d="M65.50 429.56 L83.00 429.56 L96.75 426.39 L118.00 439.23 L195.50 431.89" fill="none" stroke="#000" stroke-width="1.35"/>
<rect x="63.30" y="427.36" width="4.4" height="4.4" fill="#000"/>
<rect x="80.80" y="427.36" width="4.4" height="4.4" fill="#000"/>
<rect x="94.55" y="424.19" width="4.4" height="4.4" fill="#000"/>
<rect x="115.80" y="437.03" width="4.4" height="4.4" fill="#000"/>
<rect x="193.30" y="429.69" width="4.4" height="4.4" fill="#000"/>
<text transform="translate(37.9 397.2) rotate(-90) scale(1.0 1)" font-size="9.50" font-weight="bold" text-anchor="middle">% CD8+ Ki-67+ T cells</text>
<text x="131.8" y="468.3" font-size="9.5" font-weight="bold" text-anchor="middle" fill="#000" >days</text>
<path d="M185.3 363.8 H200.3" stroke="#000" stroke-width="1.2"/>
<rect x="190.90" y="361.90" width="3.8" height="3.8" fill="#000"/>
<text transform="translate(202.60 366.31) scale(0.96 1)" font-size="7.12">BM SM</text>
<path d="M185.3 375.6 H200.3" stroke="#666" stroke-width="1.1" stroke-dasharray="3.1 1.6"/>
<path d="M192.80 373.70 L194.70 377.12 L190.90 377.12 Z" fill="#666"/>
<text transform="translate(202.60 378.11) scale(0.96 1)" font-size="7.12">PB SM</text>
<text transform="translate(88.5 350.9) scale(1 1)" font-size="7.80">OKT4A</text>
<text transform="translate(119.6 350.9) scale(1 1)" font-size="8.05">administrations</text>
<path d="M90.4 355.2 L77.33 372.22" stroke="#000" stroke-width="1.3"/>
<path d="M75.5 374.6 L77.90 367.87 L81.39 370.55 Z" fill="#000"/>
<path d="M354.5 347.70 V446.6 H503.16" fill="none" stroke="#000" stroke-width="1.5"/>
<path d="M351.10 446.60 H354.5" stroke="#000" stroke-width="1.3"/>
<text transform="translate(350.60 449.07) scale(0.91 1)" font-size="7.8" font-weight="bold" text-anchor="end">0</text>
<path d="M351.10 426.94 H354.5" stroke="#000" stroke-width="1.3"/>
<text transform="translate(350.60 429.41) scale(0.91 1)" font-size="7.8" font-weight="bold" text-anchor="end">10</text>
<path d="M351.10 407.28 H354.5" stroke="#000" stroke-width="1.3"/>
<text transform="translate(350.60 409.75) scale(0.91 1)" font-size="7.8" font-weight="bold" text-anchor="end">20</text>
<path d="M351.10 387.62 H354.5" stroke="#000" stroke-width="1.3"/>
<text transform="translate(350.60 390.09) scale(0.91 1)" font-size="7.8" font-weight="bold" text-anchor="end">30</text>
<path d="M351.10 367.96 H354.5" stroke="#000" stroke-width="1.3"/>
<text transform="translate(350.60 370.43) scale(0.91 1)" font-size="7.8" font-weight="bold" text-anchor="end">40</text>
<path d="M351.10 348.30 H354.5" stroke="#000" stroke-width="1.3"/>
<text transform="translate(350.60 350.77) scale(0.91 1)" font-size="7.8" font-weight="bold" text-anchor="end">50</text>
<path d="M354.50 446.6 V450.00" stroke="#000" stroke-width="1.20"/>
<text transform="translate(354.50 457.39) scale(0.95 1)" font-size="7.8" font-weight="bold" text-anchor="middle">-20</text>
<path d="M366.83 446.6 V450.00" stroke="#000" stroke-width="1.20"/>
<text transform="translate(366.83 457.39) scale(0.95 1)" font-size="7.8" font-weight="bold" text-anchor="middle">-10</text>
<path d="M379.16 446.6 V450.00" stroke="#000" stroke-width="1.20"/>
<text transform="translate(379.16 457.39) scale(0.95 1)" font-size="7.8" font-weight="bold" text-anchor="middle">0</text>
<path d="M391.49 446.6 V450.00" stroke="#000" stroke-width="1.20"/>
<text transform="translate(391.49 457.39) scale(0.95 1)" font-size="7.8" font-weight="bold" text-anchor="middle">10</text>
<path d="M403.82 446.6 V450.00" stroke="#000" stroke-width="1.20"/>
<text transform="translate(403.82 457.39) scale(0.95 1)" font-size="7.8" font-weight="bold" text-anchor="middle">20</text>
<path d="M416.15 446.6 V450.00" stroke="#000" stroke-width="1.20"/>
<text transform="translate(416.15 457.39) scale(0.95 1)" font-size="7.8" font-weight="bold" text-anchor="middle">30</text>
<path d="M428.48 446.6 V450.00" stroke="#000" stroke-width="1.20"/>
<text transform="translate(428.48 457.39) scale(0.95 1)" font-size="7.8" font-weight="bold" text-anchor="middle">40</text>
<path d="M440.81 446.6 V450.00" stroke="#000" stroke-width="1.20"/>
<text transform="translate(440.81 457.39) scale(0.95 1)" font-size="7.8" font-weight="bold" text-anchor="middle">50</text>
<path d="M453.14 446.6 V450.00" stroke="#000" stroke-width="1.20"/>
<text transform="translate(453.14 457.39) scale(0.95 1)" font-size="7.8" font-weight="bold" text-anchor="middle">60</text>
<path d="M465.47 446.6 V450.00" stroke="#000" stroke-width="1.20"/>
<text transform="translate(465.47 457.39) scale(0.95 1)" font-size="7.8" font-weight="bold" text-anchor="middle">70</text>
<path d="M477.80 446.6 V450.00" stroke="#000" stroke-width="1.20"/>
<text transform="translate(477.80 457.39) scale(0.95 1)" font-size="7.8" font-weight="bold" text-anchor="middle">80</text>
<path d="M490.13 446.6 V450.00" stroke="#000" stroke-width="1.20"/>
<text transform="translate(490.13 457.39) scale(0.95 1)" font-size="7.8" font-weight="bold" text-anchor="middle">90</text>
<path d="M502.46 446.6 V450.00" stroke="#000" stroke-width="1.20"/>
<text transform="translate(502.46 457.39) scale(0.95 1)" font-size="7.8" font-weight="bold" text-anchor="middle">100</text>
<path d="M370.65 446.6 V449.80" stroke="#000" stroke-width="1.10"/>
<path d="M375.71 446.6 V449.80" stroke="#000" stroke-width="1.10"/>
<path d="M366.83 347.70 V446.6" stroke="#000" stroke-width="1.9" stroke-dasharray="2.7 1.7"/>
<path d="M378.36 347.70 V446.6" stroke="#000" stroke-width="1.4" stroke-dasharray="2.7 1.7"/>
<path d="M392.72 430.87 V427.92 M390.22 427.92 H395.22" stroke="#666" stroke-width="1.1" fill="none"/>
<path d="M392.72 430.87 V433.82 M390.22 433.82 H395.22" stroke="#666" stroke-width="1.1" fill="none"/>
<path d="M361.90 434.21 L379.16 438.34 L392.72 430.87 L413.44 439.92 L489.64 438.15" fill="none" stroke="#666" stroke-width="1.1" stroke-dasharray="3.1 1.6"/>
<path d="M361.90 432.41 L363.70 434.21 L361.90 436.01 L360.10 434.21 Z" fill="#666"/>
<path d="M379.16 436.54 L380.96 438.34 L379.16 440.14 L377.36 438.34 Z" fill="#666"/>
<path d="M392.72 429.07 L394.52 430.87 L392.72 432.67 L390.92 430.87 Z" fill="#666"/>
<path d="M413.44 438.12 L415.24 439.92 L413.44 441.72 L411.64 439.92 Z" fill="#666"/>
<path d="M489.64 436.35 L491.44 438.15 L489.64 439.95 L487.84 438.15 Z" fill="#666"/>
<path d="M392.72 418.09 V412.2 M390.22 412.2 H395.22" stroke="#000" stroke-width="1.1" fill="none"/>
<path d="M392.72 418.09 V423.2 M390.22 423.2 H395.22" stroke="#000" stroke-width="1.1" fill="none"/>
<path d="M413.68 415.93 V406.49 M411.18 406.49 H416.18" stroke="#000" stroke-width="1.1" fill="none"/>
<path d="M413.68 415.93 V425.37 M411.18 425.37 H416.18" stroke="#000" stroke-width="1.1" fill="none"/>
<path d="M489.64 424.38 V421.63 M487.14 421.63 H492.14" stroke="#000" stroke-width="1.1" fill="none"/>
<path d="M489.64 424.38 V427.14 M487.14 427.14 H492.14" stroke="#000" stroke-width="1.1" fill="none"/>
<path d="M361.90 427.92 L379.16 425.76 L392.72 418.09 L413.68 415.93 L489.64 424.38" fill="none" stroke="#000" stroke-width="1.3"/>
<circle cx="361.90" cy="427.92" r="2.2" fill="#000"/>
<circle cx="379.16" cy="425.76" r="2.2" fill="#000"/>
<circle cx="392.72" cy="418.09" r="2.2" fill="#000"/>
<circle cx="413.68" cy="415.93" r="2.2" fill="#000"/>
<circle cx="489.64" cy="424.38" r="2.2" fill="#000"/>
<text transform="translate(338.0 398.0) rotate(-90) scale(0.97 1)" font-size="9.69" font-weight="bold" text-anchor="middle">% CD8+ Ki-67+ T cells</text>
<text x="429.48" y="467.6" font-size="9.5" font-weight="bold" text-anchor="middle" fill="#000" >days</text>
<path d="M476.5 361.3 H491.5" stroke="#000" stroke-width="1.2"/>
<circle cx="484.00" cy="361.30" r="1.9" fill="#000"/>
<text transform="translate(493.10 364.32) scale(0.91 1)" font-size="8.86">BM RM</text>
<path d="M476.5 372.8 H491.5" stroke="#666" stroke-width="1.1" stroke-dasharray="3.1 1.6"/>
<path d="M484.00 371.00 L485.80 372.80 L484.00 374.60 L482.20 372.80 Z" fill="#666"/>
<text transform="translate(493.10 375.82) scale(0.91 1)" font-size="8.86">PB RM</text>
<text transform="translate(387.5 348.6) scale(0.87 1)" font-size="8.80">OKT4A</text>
<text transform="translate(418 348.6) scale(0.87 1)" font-size="9.08">administrations</text>
<path d="M386.3 352.3 L373.90 368.90" stroke="#000" stroke-width="1.3"/>
<path d="M372.1 371.3 L374.41 364.54 L377.93 367.17 Z" fill="#000"/>
</svg>
</body></html>
